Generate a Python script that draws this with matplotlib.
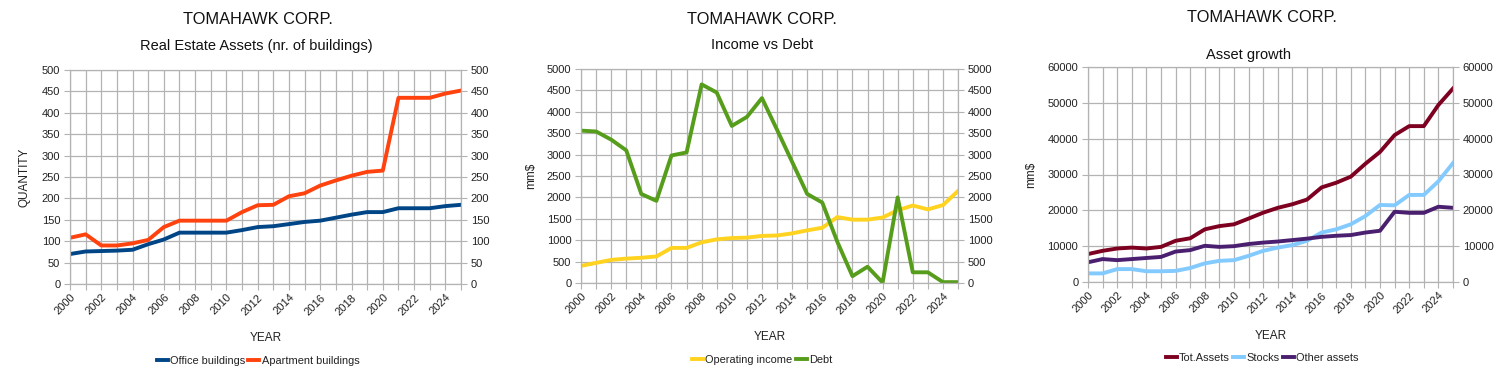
"""Three LibreOffice-style line charts for TOMAHAWK CORP."""

import matplotlib
matplotlib.use('Agg')
import matplotlib.pyplot as plt

plt.rcParams['font.family'] = ['Liberation Sans', 'DejaVu Sans']

#-----------------------------------------------------------------------------
# Data
#-----------------------------------------------------------------------------

years = list(range(2000, 2026))

office = [70, 76, 77, 78, 80, 93, 104, 120, 120, 120, 120, 126, 133, 135, 140,
          145, 148, 155, 162, 168, 168, 177, 177, 177, 182, 185]
apartment = [108, 116, 90, 90, 95, 103, 133, 148, 148, 148, 148, 168, 184, 185,
             205, 212, 230, 242, 253, 262, 265, 435, 435, 435, 445, 452]

income = [400, 470, 540, 570, 590, 620, 820, 820, 950, 1020, 1050, 1060, 1100,
          1110, 1160, 1230, 1290, 1540, 1480, 1480, 1530, 1700, 1810, 1720,
          1820, 2150]
debt = [3560, 3540, 3350, 3100, 2080, 1920, 2980, 3050, 4640, 4450, 3670, 3880,
        4320, 3580, 2830, 2080, 1880, 960, 160, 380, 10, 2000, 250, 250, 20, 20]

tot_assets = [7800, 8700, 9350, 9600, 9350, 9800, 11500, 12200, 14700, 15600,
              16100, 17700, 19350, 20700, 21700, 23000, 26400, 27700, 29400,
              33000, 36300, 41000, 43500, 43500, 49400, 54000]
stocks = [2400, 2400, 3600, 3600, 3000, 3000, 3100, 3900, 5200, 5900, 6100, 7300,
          8700, 9600, 10300, 11500, 13800, 14700, 16100, 18400, 21500, 21400,
          24300, 24300, 28100, 33200]
other_assets = [5500, 6400, 6100, 6400, 6700, 7000, 8500, 8900, 10100, 9800,
                10000, 10600, 11000, 11300, 11700, 12100, 12600, 12900, 13100,
                13800, 14300, 19600, 19300, 19300, 21000, 20700]

#-----------------------------------------------------------------------------
# Helpers
#-----------------------------------------------------------------------------

W, H = 1501, 379
GRID = '#b3b3b3'
TXT = '#222222'


def px_axes(fig, left, top, right, bottom):
    """Add axes given pixel box of the plot area."""
    return fig.add_axes([left / W, 1 - bottom / H, (right - left) / W,
                         (bottom - top) / H])


def style_axes(ax, ymax, ystep, ylabel):
    ax.set_xlim(2000, 2025)
    ax.set_ylim(0, ymax)
    ax.set_xticks(years)
    ax.set_xticklabels([str(y) if y % 2 == 0 else '' for y in years],
                       rotation=45, ha='right', rotation_mode='anchor',
                       fontsize=8, color=TXT)
    yt = list(range(0, ymax + 1, ystep))
    ax.set_yticks(yt)
    ax.set_yticklabels([str(v) for v in yt], fontsize=8, color=TXT)
    ax.tick_params(axis='y', right=True, labelright=True, length=4,
                   color=GRID, pad=3)
    ax.tick_params(axis='x', length=4, color=GRID, pad=2)
    ax.grid(True, color=GRID, linewidth=0.9)
    for s in ax.spines.values():
        s.set_color(GRID)
        s.set_linewidth(0.9)
    ax.set_axisbelow(True)
    ax.set_xlabel('YEAR', fontsize=8.5, color=TXT, labelpad=11)
    ax.set_ylabel(ylabel, fontsize=8.5, color=TXT)


def add_legend(fig, ax, xc, y):
    fig.legend(*ax.get_legend_handles_labels(), loc='center',
               bbox_to_anchor=(xc / W, 1 - y / H), ncol=3, frameon=False,
               fontsize=7.9, handlelength=1.0, handletextpad=0.2,
               columnspacing=0.3, labelcolor=TXT)


def titles(fig, xc, y1, sub, xs, y2):
    fig.text(xc / W, 1 - y1 / H, 'TOMAHAWK CORP.', ha='center', va='center',
             fontsize=11.8, color='#111111')
    fig.text(xs / W, 1 - y2 / H, sub, ha='center', va='center',
             fontsize=10.5, color='#111111')


#-----------------------------------------------------------------------------
# Main script
#-----------------------------------------------------------------------------

fig = plt.figure(figsize=(W / 100, H / 100), dpi=100)

# Chart 1: real estate
ax1 = px_axes(fig, 70, 70, 461, 284)
ax1.plot(years, office, color='#004586', lw=2.8, label='Office buildings')
ax1.plot(years, apartment, color='#ff420e', lw=2.8, label='Apartment buildings')
style_axes(ax1, 500, 50, 'QUANTITY')
ax1.yaxis.set_label_coords(-0.1, 0.5)
titles(fig, 258, 20, 'Real Estate Assets (nr. of buildings)', 256, 46)
add_legend(fig, ax1, 258, 361)

# Chart 2: income vs debt
ax2 = px_axes(fig, 581, 69, 958, 283)
ax2.plot(years, income, color='#ffd320', lw=2.8, label='Operating income')
ax2.plot(years, debt, color='#579d1c', lw=2.8, label='Debt')
style_axes(ax2, 5000, 500, 'mm$')
ax2.yaxis.set_label_coords(-0.117, 0.5)
titles(fig, 762, 20, 'Income vs Debt', 762, 45)
add_legend(fig, ax2, 762, 360)

# Chart 3: asset growth
ax3 = px_axes(fig, 1088, 67, 1453, 282)
ax3.plot(years, tot_assets, color='#7e0021', lw=2.8, label='Tot.Assets')
ax3.plot(years, stocks, color='#83caff', lw=2.8, label='Stocks')
ax3.plot(years, other_assets, color='#4b1f6f', lw=2.8, label='Other assets')
style_axes(ax3, 60000, 10000, 'mm$')
ax3.yaxis.set_label_coords(-0.14, 0.5)
titles(fig, 1262, 18, 'Asset growth', 1249, 55)
add_legend(fig, ax3, 1262, 358)

fig.savefig('out.png', dpi=100, facecolor='white')
